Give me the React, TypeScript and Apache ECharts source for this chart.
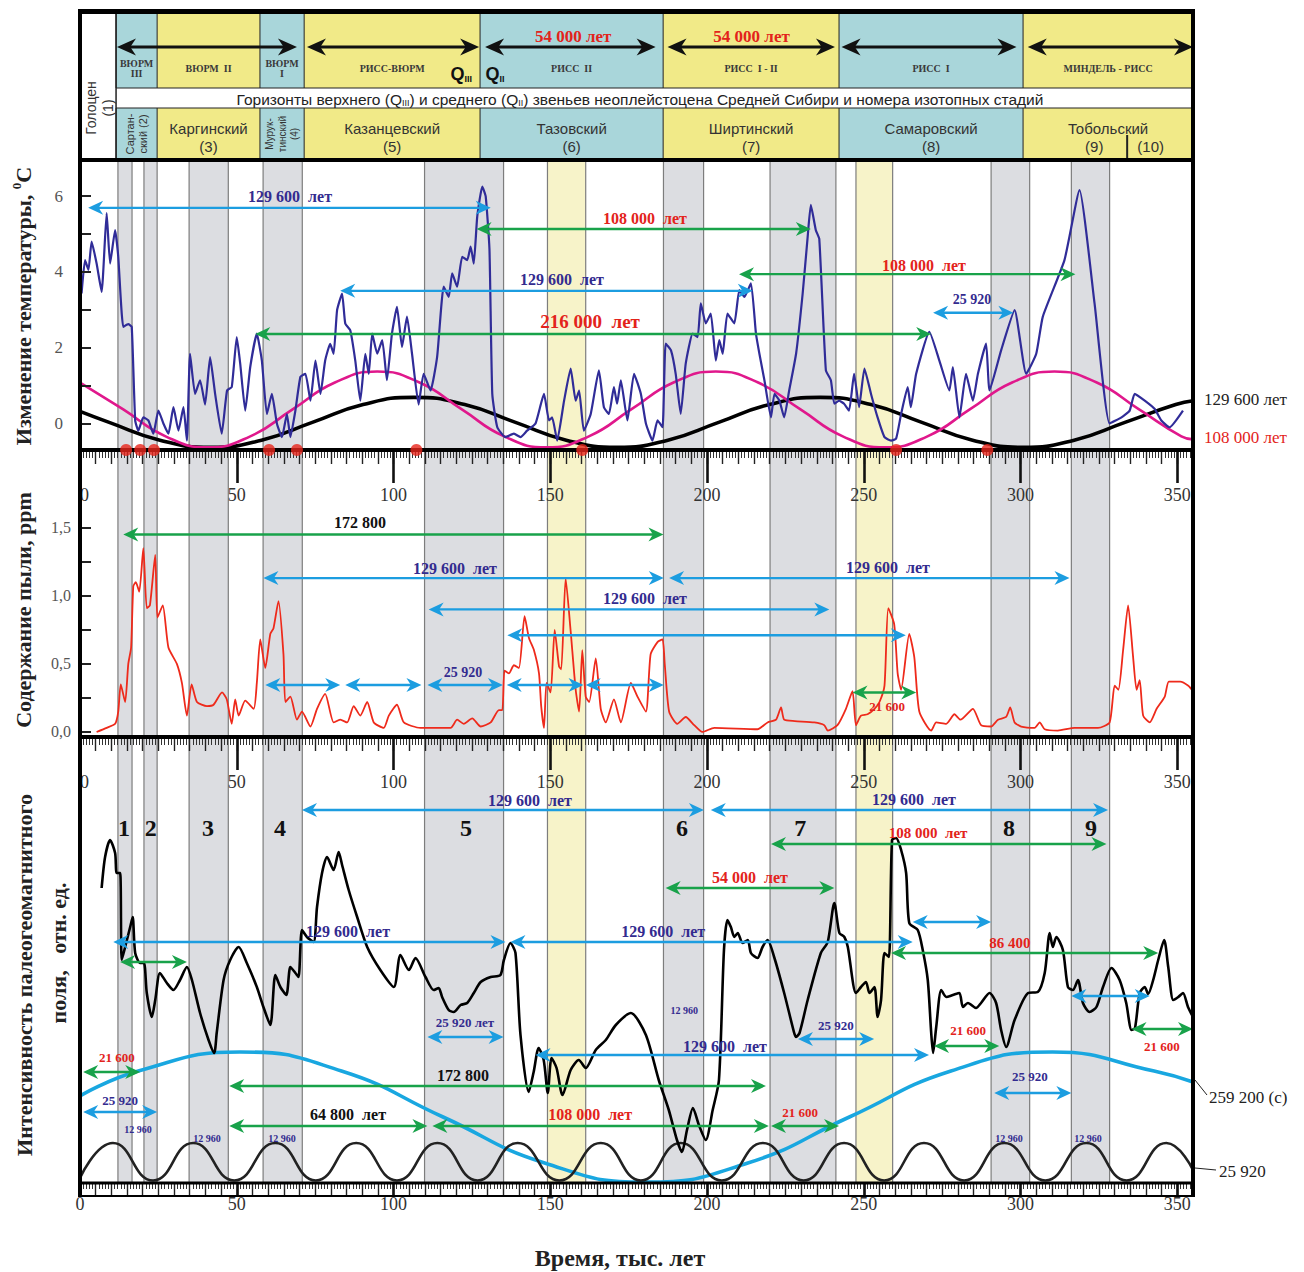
import React, { useEffect, useRef } from 'react';
import * as echarts from 'echarts';

const SERIF = '"Liberation Serif", "Times New Roman", serif';
const SANS = '"Liberation Sans", Arial, sans-serif';

const NAVY = '#332b8f';
const RED = '#e3231b';
const BLUE = '#1c9de0';
const GREEN = '#18a24a';
const CYAN_CELL = '#a9d6da';
const YELLOW_CELL = '#f1ea88';
const GRAY_BAND = '#dcdde1';
const YELLOW_BAND = '#f7f3c9';

const T_MAX = 355;

// ---------- stratigraphic table ----------
const stageBounds = [11.5, 24.6, 57.4, 71.5, 127.6, 186, 242.1, 300.8, 355];
const stageIsGlacial = [true, false, true, false, true, false, true, false];
const stageNames = ['ВЮРМ\nIII', 'ВЮРМ  II', 'ВЮРМ\nI', 'РИСС-ВЮРМ', 'РИСС  II', 'РИСС  I - II', 'РИСС  I', 'МИНДЕЛЬ - РИСС'];
const horizonNames = ['Сартан-\nский (2)', 'Каргинский\n(3)', 'Мурук-\nтинский\n(4)', 'Казанцевский\n(5)', 'Тазовский\n(6)', 'Ширтинский\n(7)', 'Самаровский\n(8)', 'Тобольский'];
const tobolskStages = [{ t: 323.5, label: '(9)' }, { t: 341.5, label: '(10)' }];
const tobolskDivider = 334;
const stageArrows: [number, number][] = [[11.8, 69.2], [72.4, 127.3], [129.2, 183.6], [187.4, 240.8], [242.9, 298.7], [302.3, 355]];
const stageDurations = [{ t: 157.3, label: '54 000 лет' }, { t: 214.2, label: '54 000 лет' }];

// ---------- shaded intervals (isotope stages) ----------
const grayBands: [number, number][] = [[12.1, 16.6], [20.4, 24.6], [34.8, 47.3], [58.4, 70.9], [109.9, 135.1], [186.1, 198.9], [220.1, 241.1], [290.6, 302.9], [316.2, 328.4]];
const yellowBands: [number, number][] = [[149.1, 161.3], [247.5, 259.2]];

// ---------- temperature, °C ----------
const temperatureAnomaly: [number, number][] = [
  [0.5, 3.43], [1.6, 4.31], [2.7, 4.05], [3.7, 4.8], [5.3, 4.22], [6.9, 3.47], [8.5, 5.55], [9.6, 4.22], [11.2, 5.1], [12.2, 4.4],
  [13.8, 2.55], [15.4, 2.62], [16.5, 2.55], [17.6, 0.08], [18.6, -0.19], [20.2, 0.16], [21.8, 0.08], [23.4, -0.27], [25.0, 0.34], [26.6, 0.0],
  [28.2, -0.27], [29.8, 0.43], [31.4, -0.19], [33.0, 0.43], [34.1, -0.45], [35.1, 1.84], [36.7, 0.78], [38.3, 1.14], [39.9, 0.5], [41.5, 1.75],
  [43.1, 0.78], [45.2, -0.27], [46.9, 0.87], [48.4, 0.96], [50.0, 2.28], [51.1, 1.58], [52.7, 0.34], [54.3, 1.49], [56.4, 2.37], [58.0, 1.66],
  [59.6, 0.25], [61.2, 0.78], [62.8, 0.0], [64.4, -0.36], [66.0, 0.25], [67.1, -0.36], [68.7, 0.34], [70.3, 1.23], [71.9, 1.31], [73.5, 0.6],
  [75.1, 1.66], [76.7, 0.78], [78.2, 1.66], [79.8, 2.1], [80.9, 1.84], [82.0, 2.99], [83.6, 3.43], [84.6, 2.64], [86.2, 2.46], [87.8, 1.66],
  [89.4, 0.6], [91.0, 1.84], [92.1, 1.31], [93.2, 2.37], [94.8, 1.84], [96.4, 2.2], [97.9, 1.14], [99.5, 2.37], [101.1, 3.08], [102.7, 2.02],
  [104.3, 2.82], [105.9, 1.84], [108.0, 0.5], [109.6, 1.31], [111.8, 0.87], [113.9, 1.75], [116.0, 3.61], [117.6, 3.34], [118.7, 3.96], [120.3, 3.61],
  [121.9, 4.4], [123.5, 4.31], [124.6, 4.67], [125.6, 4.22], [126.7, 5.46], [128.3, 6.25], [129.4, 5.99], [130.6, 4.6], [131.5, 0.78], [133.1, -0.1],
  [135.7, -0.36], [138.4, -0.27], [140.5, -0.36], [142.6, -0.19], [145.3, 0.0], [148.0, 0.78], [149.6, 0.08], [150.6, 0.16], [152.2, -0.45], [154.4, 0.6],
  [156.5, 1.45], [158.1, 0.6], [159.2, 0.87], [160.7, -0.19], [162.9, 0.25], [165.5, 1.4], [167.1, 0.43], [168.7, 0.25], [170.3, 0.96], [171.3, 0.52],
  [172.5, 1.14], [174.6, 0.08], [176.7, 1.31], [178.9, 0.78], [180.5, 0.0], [182.6, -0.45], [184.2, 0.08], [185.8, -0.1], [186.8, 2.11], [188.5, 1.93],
  [190.0, 1.31], [191.6, 0.25], [193.2, 1.58], [195.4, 2.37], [197.0, 2.28], [198.0, 3.17], [199.6, 2.64], [201.2, 2.9], [202.8, 1.66], [203.9, 2.2],
  [205.0, 1.84], [206.5, 2.9], [208.7, 2.64], [210.3, 3.52], [211.9, 3.34], [214.0, 3.7], [215.6, 2.37], [216.7, 1.84], [218.3, 1.14], [220.4, 0.16],
  [221.5, 0.78], [223.1, 0.6], [224.6, 0.16], [226.2, 0.87], [228.4, 1.84], [230.5, 3.43], [232.1, 4.93], [233.1, 5.77], [234.7, 5.1], [235.8, 4.87],
  [237.9, 1.4], [239.5, 1.14], [240.6, 0.52], [242.1, 0.6], [243.7, 0.52], [245.3, 0.34], [246.9, 1.31], [248.5, 0.43], [250.2, 1.45], [252.3, 0.78],
  [254.4, 0.16], [256.6, -0.36], [258.7, -0.45], [260.3, -0.4], [261.9, 0.25], [264.0, 0.96], [265.0, 0.43], [266.7, 1.31], [270.9, 2.42], [274.1, 1.66],
  [277.3, 0.87], [278.4, 1.49], [280.5, 0.16], [282.6, 1.31], [284.8, 0.6], [286.4, 1.31], [289.0, 2.11], [290.1, 0.87], [293.8, 1.93], [298.1, 2.99],
  [301.8, 1.31], [305.0, 1.84], [307.1, 2.82], [314.0, 4.31], [318.8, 6.16], [323.6, 3.17], [328.4, 0.0], [332.2, 0.16], [334.8, 0.34], [336.4, 0.78],
  [339.6, 0.6], [342.8, 0.38], [344.9, 0.08], [347.5, -0.1], [351.8, 0.34],
];
const period129600: [number, number][] = [
  [0, 0.32], [9.3, 0.03], [25.5, -0.44], [41.7, -0.63], [57.9, -0.44], [74.1, 0.03], [90.3, 0.5], [106.5, 0.69], [122.7, 0.5], [138.9, 0.03],
  [155.1, -0.44], [171.3, -0.63], [187.5, -0.44], [203.7, 0.03], [219.9, 0.5], [236.1, 0.69], [252.3, 0.5], [268.5, 0.03], [284.7, -0.44],
  [300.9, -0.63], [317.1, -0.44], [333.3, 0.03], [349.5, 0.5], [355, 0.6],
];
const period108000: [number, number][] = [
  [0, 1.08], [13.8, 0.37], [27.3, -0.34], [40.8, -0.63], [54.3, -0.34], [67.8, 0.37], [81.3, 1.08], [94.8, 1.37], [108.3, 1.08], [121.8, 0.37],
  [135.3, -0.34], [148.8, -0.63], [162.3, -0.34], [175.8, 0.37], [189.3, 1.08], [202.8, 1.37], [216.3, 1.08], [229.8, 0.37], [243.3, -0.34],
  [256.8, -0.63], [270.3, -0.34], [283.8, 0.37], [297.3, 1.08], [310.8, 1.37], [324.3, 1.08], [337.8, 0.37], [351.3, -0.34], [355, -0.42],
];
const markedAges = [14.7, 19.2, 23.6, 60.3, 69.2, 107.3, 160.2, 260.3, 289.4];

// ---------- dust, ppm ----------
const dustContent: [number, number][] = [
  [5.3, 0.0], [8.5, 0.03], [11.2, 0.06], [12.2, 0.15], [13.0, 0.35], [14.4, 0.22], [15.4, 0.5], [16.3, 0.62], [17.0, 1.07], [17.8, 1.1],
  [18.9, 1.03], [20.2, 1.35], [21.3, 0.91], [22.3, 0.93], [24.0, 1.3], [24.7, 0.84], [26.4, 0.93], [28.2, 0.62], [30.9, 0.5], [32.5, 0.36],
  [34.1, 0.12], [35.6, 0.35], [37.3, 0.22], [40.5, 0.19], [42.6, 0.2], [45.3, 0.29], [46.8, 0.24], [48.4, 0.06], [49.5, 0.24], [50.6, 0.12],
  [52.7, 0.23], [55.4, 0.17], [56.4, 0.36], [57.5, 0.68], [59.1, 0.47], [60.7, 0.72], [61.7, 0.76], [63.3, 0.96], [64.9, 0.57], [65.5, 0.22],
  [67.1, 0.26], [69.2, 0.09], [70.8, 0.15], [73.5, 0.04], [75.6, 0.17], [78.2, 0.28], [80.9, 0.07], [83.0, 0.09], [85.2, 0.07], [87.3, 0.19],
  [89.4, 0.12], [91.6, 0.22], [93.7, 0.07], [96.9, 0.03], [98.5, 0.12], [101.1, 0.2], [103.3, 0.07], [108.6, 0.03], [118.2, 0.03], [120.3, 0.09],
  [122.4, 0.06], [125.1, 0.1], [127.8, 0.04], [131.0, 0.07], [133.6, 0.16], [134.7, 0.16], [135.4, 0.45], [136.8, 0.43], [138.4, 0.49], [140.0, 0.47],
  [141.8, 0.85], [143.2, 0.69], [144.8, 0.6], [146.4, 0.43], [147.1, 0.19], [148.0, 0.03], [148.8, 0.36], [150.1, 0.29], [151.4, 0.75], [152.8, 0.48],
  [153.5, 0.46], [154.9, 1.13], [156.5, 0.74], [158.1, 0.31], [159.2, 0.15], [160.2, 0.6], [161.3, 0.26], [162.4, 0.22], [164.5, 0.54], [166.1, 0.17],
  [167.7, 0.07], [170.3, 0.24], [172.5, 0.07], [175.7, 0.36], [177.8, 0.26], [180.5, 0.15], [182.0, 0.57], [184.2, 0.66], [185.8, 0.68], [186.5, 0.5],
  [187.9, 0.15], [190.5, 0.06], [193.2, 0.11], [195.9, 0.05], [198.5, 0.0], [202.3, 0.03], [216.1, 0.02], [219.3, 0.07], [222.0, 0.09], [223.6, 0.18],
  [224.6, 0.09], [228.0, 0.08], [234.2, 0.07], [237.4, 0.05], [238.5, 0.01], [241.6, 0.05], [244.3, 0.17], [246.4, 0.3], [247.5, 0.05], [249.1, 0.12],
  [251.2, 0.13], [253.4, 0.17], [255.0, 0.22], [256.6, 0.34], [257.8, 0.91], [259.7, 0.79], [260.8, 0.43], [261.9, 0.31], [264.5, 0.72], [266.1, 0.55],
  [267.7, 0.15], [271.5, 0.01], [273.1, 0.07], [276.3, 0.06], [278.9, 0.13], [280.8, 0.09], [284.8, 0.17], [287.4, 0.05], [290.6, 0.04], [292.8, 0.09],
  [295.4, 0.11], [296.7, 0.18], [298.1, 0.07], [300.2, 0.04], [304.5, 0.03], [306.1, 0.07], [307.7, 0.02], [311.9, 0.01], [317.2, 0.03], [324.7, 0.03],
  [328.4, 0.07], [330.0, 0.34], [331.2, 0.31], [332.7, 0.6], [334.3, 0.93], [335.9, 0.55], [337.0, 0.31], [338.0, 0.38], [339.1, 0.12], [341.2, 0.07],
  [343.4, 0.17], [346.0, 0.26], [347.3, 0.37], [350.9, 0.37], [353.5, 0.34], [355, 0.3],
];

// ---------- palaeomagnetic field intensity, relative units ----------
const fieldIntensity: [number, number][] = [
  [6.9, 29.5], [8.0, 32.6], [9.6, 34.3], [11.2, 33.0], [11.7, 31.0], [12.8, 31.0], [13.3, 22.3], [14.4, 23.6], [16.0, 25.6], [16.8, 26.6],
  [17.6, 23.0], [19.2, 22.0], [20.4, 22.0], [21.3, 19.0], [22.9, 16.6], [24.0, 18.3], [25.5, 21.0], [27.7, 20.0], [29.8, 19.3], [31.9, 20.3],
  [34.1, 21.6], [35.7, 20.3], [38.3, 17.0], [41.0, 14.3], [42.8, 13.0], [43.6, 15.0], [45.8, 20.3], [47.9, 22.3], [50.6, 23.6], [53.2, 22.0],
  [56.4, 19.6], [58.5, 17.6], [60.7, 15.8], [62.3, 20.8], [63.9, 19.6], [65.8, 18.8], [67.1, 21.6], [68.7, 21.0], [69.7, 20.6], [70.8, 25.3],
  [72.4, 24.6], [74.5, 24.1], [75.6, 27.6], [77.2, 31.0], [78.8, 32.6], [80.9, 31.3], [82.5, 33.1], [83.6, 31.8], [85.7, 29.3], [88.4, 26.6],
  [91.6, 23.6], [95.8, 21.3], [100.1, 19.6], [102.2, 22.8], [104.9, 21.3], [107.0, 22.5], [110.2, 20.6], [112.8, 19.3], [114.4, 19.5], [115.5, 18.6],
  [117.6, 17.3], [119.2, 17.1], [121.4, 17.8], [123.5, 18.0], [125.6, 19.0], [127.8, 20.1], [131.0, 20.6], [134.1, 20.8], [135.2, 22.3], [137.3, 24.0],
  [138.9, 23.0], [140.5, 14.8], [143.1, 9.1], [144.7, 11.1], [146.3, 13.5], [147.9, 12.3], [149.2, 9.0], [150.4, 12.5], [152.0, 11.5], [153.9, 8.8],
  [156.5, 11.3], [159.1, 12.3], [161.3, 11.5], [164.5, 13.3], [167.7, 14.3], [170.9, 15.8], [175.7, 17.0], [180.5, 14.8], [184.6, 10.3], [187.8, 7.3],
  [190.4, 4.3], [192.0, 3.1], [193.6, 5.3], [195.5, 7.5], [197.4, 5.8], [199.6, 4.3], [201.8, 7.3], [203.8, 10.3], [205.4, 23.3], [206.5, 26.3],
  [207.6, 25.6], [208.7, 24.6], [209.8, 25.0], [211.3, 24.0], [213.0, 24.3], [214.0, 23.0], [216.1, 22.5], [217.7, 23.6], [219.3, 24.3], [221.4, 22.6],
  [224.6, 19.0], [227.8, 15.0], [228.4, 14.6], [229.5, 15.0], [232.1, 18.3], [236.3, 23.0], [238.5, 24.1], [240.6, 28.0], [242.2, 25.0], [243.8, 24.6],
  [244.9, 23.6], [247.5, 19.0], [249.1, 19.6], [250.7, 20.1], [251.8, 19.0], [253.4, 19.6], [254.4, 16.6], [255.5, 18.3], [256.6, 23.0], [258.0, 22.6],
  [259.0, 34.3], [260.3, 34.5], [261.9, 33.3], [263.5, 31.0], [264.5, 26.0], [267.2, 25.3], [268.8, 23.3], [270.4, 20.3], [271.5, 15.0], [272.1, 13.0],
  [273.1, 15.6], [274.7, 19.3], [276.3, 18.6], [278.4, 18.8], [280.5, 19.0], [281.6, 17.6], [283.2, 18.0], [285.8, 17.5], [287.4, 18.0], [290.1, 19.0],
  [292.2, 18.0], [293.8, 15.3], [295.4, 13.6], [298.1, 16.3], [302.4, 19.0], [305.5, 19.1], [307.7, 21.0], [309.3, 25.0], [310.3, 23.6], [311.4, 24.6],
  [313.5, 23.3], [315.1, 19.6], [316.7, 19.3], [318.3, 20.3], [319.9, 18.0], [322.0, 17.1], [324.2, 17.6], [326.3, 19.6], [329.0, 21.5], [331.6, 20.3],
  [333.7, 18.0], [335.4, 15.3], [336.5, 15.5], [338.0, 19.0], [339.6, 19.6], [340.7, 18.9], [342.3, 20.3], [343.9, 22.3], [345.8, 24.3], [347.1, 21.6],
  [348.7, 18.3], [350.3, 18.6], [351.8, 19.0], [353.4, 17.6], [355, 16.6],
];
const period259200: [number, number][] = [
  [0, 8.7], [18.6, 11.2], [51, 13.1], [83.4, 11.2], [115.8, 6.6], [148.2, 2.0], [180.6, 0.1], [213, 2.0], [245.4, 6.6], [277.8, 11.2], [310.2, 13.1], [342.6, 11.2], [355, 10.1],
];
const period25920: [number, number][] = [
  [0, 0.5], [10.5, 4.0], [23.3, 0.25], [36.1, 4.0], [49.2, 0.25], [62.3, 4.0], [75.2, 0.25], [88.1, 4.0], [101.1, 0.25], [114.0, 4.0],
  [126.8, 0.25], [139.6, 4.0], [152.9, 0.25], [166.1, 4.0], [178.9, 0.25], [191.6, 4.0], [204.7, 0.25], [217.8, 4.0], [230.8, 0.25], [243.7, 4.0],
  [256.5, 0.25], [269.2, 4.0], [282.0, 0.25], [294.8, 4.0], [307.9, 0.25], [321.0, 4.0], [333.8, 0.25], [346.5, 4.0], [355, 1.3],
];

// ---------- period annotations ----------
type Arrow = { t1: number; t2: number; y: number; kind: 'blue' | 'green'; label?: string; color?: string; lt?: number; ly?: number; size?: number };
type Note = { t: number; y: number; text: string; color: string; size: number };

const temperatureArrows: Arrow[] = [
  { t1: 2.6, t2: 131, y: 5.69, kind: 'blue', label: '129 600  лет', color: NAVY, lt: 67, ly: 5.98, size: 16 },
  { t1: 126.5, t2: 233.1, y: 5.13, kind: 'green', label: '108 000  лет', color: RED, lt: 180.2, ly: 5.42, size: 16 },
  { t1: 83, t2: 214.6, y: 3.5, kind: 'blue', label: '129 600  лет', color: NAVY, lt: 153.7, ly: 3.79, size: 16 },
  { t1: 210.2, t2: 317.5, y: 3.94, kind: 'green', label: '108 000  лет', color: RED, lt: 269.2, ly: 4.18, size: 16 },
  { t1: 272.1, t2: 297.7, y: 2.92, kind: 'blue', label: '25 920', color: NAVY, lt: 284.5, ly: 3.26, size: 14 },
  { t1: 55.9, t2: 271.5, y: 2.36, kind: 'green', label: '216 000  лет', color: RED, lt: 162.7, ly: 2.7, size: 19 },
];
const dustArrows: Arrow[] = [
  { t1: 13.8, t2: 186.1, y: 1.45, kind: 'green', label: '172 800', color: '#111', lt: 89.3, ly: 1.54, size: 16 },
  { t1: 58.5, t2: 186.2, y: 1.13, kind: 'blue', label: '129 600  лет', color: NAVY, lt: 119.6, ly: 1.2, size: 16 },
  { t1: 187.9, t2: 315.6, y: 1.13, kind: 'blue', label: '129 600  лет', color: NAVY, lt: 257.7, ly: 1.21, size: 16 },
  { t1: 111.2, t2: 239.0, y: 0.9, kind: 'blue', label: '129 600  лет', color: NAVY, lt: 180.2, ly: 0.98, size: 16 },
  { t1: 136.3, t2: 263.4, y: 0.71, kind: 'blue' },
  { t1: 59.1, t2: 83.0, y: 0.345, kind: 'blue' },
  { t1: 84.6, t2: 108.9, y: 0.345, kind: 'blue' },
  { t1: 110.8, t2: 134.9, y: 0.345, kind: 'blue', label: '25 920', color: NAVY, lt: 122.2, ly: 0.44, size: 14 },
  { t1: 136.1, t2: 160.6, y: 0.345, kind: 'blue' },
  { t1: 161.3, t2: 186.2, y: 0.345, kind: 'blue' },
  { t1: 246.4, t2: 266.7, y: 0.29, kind: 'green', label: '21 600', color: RED, lt: 257.4, ly: 0.19, size: 13 },
];
const fieldArrows: Arrow[] = [
  { t1: 70.8, t2: 199, y: 37.3, kind: 'blue', label: '129 600  лет', color: NAVY, lt: 143.5, ly: 38.3, size: 16 },
  { t1: 201.2, t2: 327.9, y: 37.3, kind: 'blue', label: '129 600  лет', color: NAVY, lt: 266, ly: 38.4, size: 16 },
  { t1: 220.4, t2: 327.4, y: 33.9, kind: 'green', label: '108 000  лет', color: RED, lt: 270.5, ly: 35.0, size: 15 },
  { t1: 186.8, t2: 240.6, y: 29.5, kind: 'green', label: '54 000  лет', color: RED, lt: 213.7, ly: 30.6, size: 16 },
  { t1: 10.6, t2: 135.7, y: 24.1, kind: 'blue', label: '129 600  лет', color: NAVY, lt: 85.5, ly: 25.2, size: 16 },
  { t1: 137.3, t2: 265.6, y: 24.1, kind: 'blue', label: '129 600  лет', color: NAVY, lt: 186, ly: 25.2, size: 16 },
  { t1: 12.8, t2: 34.1, y: 22.1, kind: 'green' },
  { t1: 265.6, t2: 290.6, y: 26.1, kind: 'blue' },
  { t1: 258.7, t2: 343.9, y: 23.0, kind: 'green', label: '86 400', color: RED, lt: 296.6, ly: 24.0, size: 15 },
  { t1: 316.2, t2: 341.2, y: 18.7, kind: 'blue' },
  { t1: 335.4, t2: 355, y: 15.4, kind: 'green', label: '21 600', color: RED, lt: 345.1, ly: 13.7, size: 13 },
  { t1: 272.4, t2: 293.2, y: 13.7, kind: 'green', label: '21 600', color: RED, lt: 283.3, ly: 15.3, size: 13 },
  { t1: 229, t2: 253.3, y: 14.4, kind: 'blue', label: '25 920', color: NAVY, lt: 241.1, ly: 15.8, size: 13 },
  { t1: 145.3, t2: 270.8, y: 12.8, kind: 'blue', label: '129 600  лет', color: NAVY, lt: 205.7, ly: 13.7, size: 16 },
  { t1: 110.8, t2: 135.1, y: 14.6, kind: 'blue', label: '25 920 лет', color: NAVY, lt: 122.8, ly: 16.1, size: 13 },
  { t1: 1, t2: 19.2, y: 11.1, kind: 'green', label: '21 600', color: RED, lt: 11.8, ly: 12.6, size: 13 },
  { t1: 1, t2: 24.6, y: 7.1, kind: 'blue', label: '25 920', color: NAVY, lt: 12.8, ly: 8.3, size: 13 },
  { t1: 47.6, t2: 218.8, y: 9.7, kind: 'green', label: '172 800', color: '#111', lt: 122.2, ly: 10.8, size: 16 },
  { t1: 47.6, t2: 110.8, y: 5.7, kind: 'green', label: '64 800  лет', color: '#111', lt: 85.5, ly: 6.9, size: 16 },
  { t1: 112.4, t2: 219.7, y: 5.7, kind: 'green', label: '108 000  лет', color: RED, lt: 162.7, ly: 6.9, size: 16 },
  { t1: 220.4, t2: 242.1, y: 5.7, kind: 'green', label: '21 600', color: RED, lt: 229.7, ly: 7.1, size: 13 },
  { t1: 291.6, t2: 316.2, y: 9.0, kind: 'blue', label: '25 920', color: NAVY, lt: 303, ly: 10.7, size: 13 },
];
const stageNumbers = [
  { t: 14, label: '1' }, { t: 22.6, label: '2' }, { t: 40.8, label: '3' }, { t: 63.8, label: '4' }, { t: 123.1, label: '5' },
  { t: 192.0, label: '6' }, { t: 229.7, label: '7' }, { t: 296.3, label: '8' }, { t: 322.5, label: '9' },
];
const halfPrecessionMarks: [number, number][] = [[18.5, 5.4], [40.5, 4.5], [64.4, 4.5], [192.7, 17.3], [296.3, 4.5], [321.5, 4.5]];

const fieldNotes: Note[] = [
  ...stageNumbers.map((s) => ({ t: s.t, y: 35.5, text: s.label, color: '#111', size: 24 })),
  ...halfPrecessionMarks.map(([t, y]) => ({ t, y, text: '12 960', color: NAVY, size: 10 })),
];

// ---------- drawing helpers ----------
function textEl(x: number, y: number, text: string, o: any) {
  return {
    type: 'text',
    x,
    y,
    rotation: o.rotate ? Math.PI / 2 : 0,
    style: {
      text,
      x: 0,
      y: 0,
      fill: o.color || '#111',
      fontSize: o.size,
      fontFamily: o.family || SERIF,
      fontWeight: o.weight || 'bold',
      align: o.align || 'center',
      verticalAlign: 'middle',
      lineHeight: o.lineHeight,
      rich: o.rich,
    },
  };
}

function arrowGroup(api: any, a: { t1: number; t2: number; y: number }, color: string, len: number, half: number, lw: number) {
  const p1 = api.coord([a.t1, a.y]);
  const p2 = api.coord([a.t2, a.y]);
  const y = p1[1];
  const head = (tx: number, dir: number) => ({
    type: 'polygon',
    shape: { points: [[tx, y], [tx + dir * len, y - half], [tx + dir * len * 0.7, y], [tx + dir * len, y + half]] },
    style: { fill: color },
  });
  return [
    { type: 'line', shape: { x1: p1[0] + len * 0.6, y1: y, x2: p2[0] - len * 0.6, y2: y }, style: { stroke: color, lineWidth: lw } },
    head(p1[0], 1),
    head(p2[0], -1),
  ];
}

function annotationSeries(xIdx: number, yIdx: number, arrows: Arrow[], notes: Note[]) {
  const items: any[] = [...arrows.map((a) => ({ a })), ...notes.map((n) => ({ n }))];
  return {
    type: 'custom',
    xAxisIndex: xIdx,
    yAxisIndex: yIdx,
    z: 8,
    silent: true,
    clip: false,
    data: items.map((it) => (it.a ? [it.a.t1, it.a.y] : [it.n.t, it.n.y])),
    renderItem: (params: any, api: any) => {
      const it = items[params.dataIndex];
      if (it.a) {
        const a: Arrow = it.a;
        const children: any[] = arrowGroup(api, a, a.kind === 'blue' ? BLUE : GREEN, 15, 7, 2.4);
        if (a.label) {
          const p = api.coord([a.lt, a.ly]);
          children.push(textEl(p[0], p[1], a.label, { color: a.color, size: a.size }));
        }
        return { type: 'group', children };
      }
      const n: Note = it.n;
      const p = api.coord([n.t, n.y]);
      return textEl(p[0], p[1], n.text, { color: n.color, size: n.size });
    },
  };
}

const bandList = [
  ...grayBands.map((b) => ({ from: b[0], to: b[1], fill: GRAY_BAND })),
  ...yellowBands.map((b) => ({ from: b[0], to: b[1], fill: YELLOW_BAND })),
];

function bandSeries(xIdx: number, yIdx: number, yRef: number) {
  return {
    type: 'custom',
    xAxisIndex: xIdx,
    yAxisIndex: yIdx,
    z: 1,
    silent: true,
    clip: false,
    data: bandList.map((b) => [b.from, yRef]),
    renderItem: (params: any, api: any) => {
      const b = bandList[params.dataIndex];
      const cs = params.coordSys;
      const x0 = api.coord([b.from, yRef])[0];
      const x1 = api.coord([b.to, yRef])[0];
      const edge = (x: number) => ({ type: 'line', shape: { x1: x, y1: cs.y, x2: x, y2: cs.y + cs.height }, style: { stroke: '#7d7d7d', lineWidth: 1.2 } });
      return {
        type: 'group',
        children: [{ type: 'rect', shape: { x: x0, y: cs.y, width: x1 - x0, height: cs.height }, style: { fill: b.fill } }, edge(x0), edge(x1)],
      };
    },
  };
}

// header rows in header-axis units (0 at the top)
const ROW_STAGE_TOP = 3;
const ROW_STAGE_BOTTOM = 78;
const ROW_STRIP_BOTTOM = 98;
const ROW_HORIZON_BOTTOM = 150;

function headerSeries() {
  return {
    type: 'custom',
    xAxisIndex: 0,
    yAxisIndex: 0,
    z: 3,
    silent: true,
    clip: false,
    data: [[0, 0]],
    renderItem: (_params: any, api: any) => {
      const X = (t: number) => api.coord([t, 0])[0];
      const Y = (h: number) => api.coord([0, h])[1];
      const kids: any[] = [];
      const vline = (x: number, y0: number, y1: number, w = 1) => ({ type: 'line', shape: { x1: x, y1: y0, x2: x, y2: y1 }, style: { stroke: '#222', lineWidth: w } });
      const hline = (y: number, x0: number, x1: number) => ({ type: 'line', shape: { x1: x0, y1: y, x2: x1, y2: y }, style: { stroke: '#222', lineWidth: 1 } });
      for (let i = 0; i < stageNames.length; i++) {
        const x0 = X(stageBounds[i]);
        const x1 = X(stageBounds[i + 1]);
        const fill = stageIsGlacial[i] ? CYAN_CELL : YELLOW_CELL;
        kids.push({ type: 'rect', shape: { x: x0, y: Y(ROW_STAGE_TOP), width: x1 - x0, height: Y(ROW_STAGE_BOTTOM) - Y(ROW_STAGE_TOP) }, style: { fill } });
        kids.push({ type: 'rect', shape: { x: x0, y: Y(ROW_STRIP_BOTTOM), width: x1 - x0, height: Y(ROW_HORIZON_BOTTOM) - Y(ROW_STRIP_BOTTOM) }, style: { fill } });
        kids.push(vline(x0, Y(ROW_STAGE_TOP), Y(ROW_STAGE_BOTTOM)));
        kids.push(vline(x0, Y(ROW_STRIP_BOTTOM), Y(ROW_HORIZON_BOTTOM)));
        const xc = (x0 + x1) / 2;
        const narrow = x1 - x0 < 60;
        kids.push(textEl(xc, Y(58), stageNames[i], { color: '#3a3a3a', size: 10, lineHeight: 10 }));
        if (narrow) {
          kids.push(textEl(xc, Y(124), horizonNames[i], { color: '#333', size: horizonNames[i].split('\n').length > 2 ? 10 : 11, family: SANS, weight: 'normal', rotate: true, lineHeight: 12.5 }));
        } else if (i === stageNames.length - 1) {
          kids.push(textEl(xc, Y(118), horizonNames[i], { color: '#333', size: 15, family: SANS, weight: 'normal' }));
        } else {
          kids.push(textEl(xc, Y(127), horizonNames[i], { color: '#333', size: 15, family: SANS, weight: 'normal', lineHeight: 18 }));
        }
      }
      tobolskStages.forEach((s) => kids.push(textEl(X(s.t), Y(136), s.label, { color: '#333', size: 15, family: SANS, weight: 'normal' })));
      kids.push(vline(X(tobolskDivider), Y(125), Y(ROW_HORIZON_BOTTOM), 2));
      // holocene column
      kids.push(vline(X(stageBounds[0]), Y(0), Y(ROW_HORIZON_BOTTOM), 1.5));
      kids.push(textEl(X(6.2), Y(98), 'Голоцен\n(1)', { color: '#333', size: 14, family: SANS, weight: 'normal', rotate: true, lineHeight: 17 }));
      // strip
      kids.push(hline(Y(ROW_STAGE_BOTTOM), X(stageBounds[0]), X(T_MAX)));
      kids.push(hline(Y(ROW_STRIP_BOTTOM), X(stageBounds[0]), X(T_MAX)));
      kids.push(
        textEl(X(178.6), Y(88), '{a|Горизонты верхнего (Q}{b|III}{a|) и среднего (Q}{b|II}{a|) звеньев неоплейстоцена Средней Сибири и номера изотопных стадий}', {
          size: 15,
          rich: {
            a: { fontSize: 15.5, fontFamily: SANS, fill: '#222', lineHeight: 18, verticalAlign: 'bottom' },
            b: { fontSize: 9, fontFamily: SANS, fill: '#222', lineHeight: 14, verticalAlign: 'bottom' },
          },
        })
      );
      // stage arrows and durations
      stageArrows.forEach(([t1, t2]) => kids.push(...arrowGroup(api, { t1, t2, y: 37 }, '#111', 19, 8.5, 3.2)));
      stageDurations.forEach((d) => kids.push(textEl(X(d.t), Y(26), d.label, { color: RED, size: 17 })));
      const qRich = {
        q: { fontSize: 18, fontWeight: 'bold', fontFamily: SANS, fill: '#111', lineHeight: 20, verticalAlign: 'bottom' },
        s: { fontSize: 9, fontWeight: 'bold', fontFamily: SANS, fill: '#111', lineHeight: 14, verticalAlign: 'bottom' },
      };
      kids.push(textEl(X(121.6), Y(63), '{q|Q}{s|III}', { size: 18, rich: qRich }));
      kids.push(textEl(X(132.4), Y(63), '{q|Q}{s|II}', { size: 18, rich: qRich }));
      return { type: 'group', children: kids };
    },
  };
}

// ---------- axes ----------
const GRID_LEFT = 80;
const GRID_WIDTH = 1113;
const rulerTicks = [0, 50, 100, 150, 200, 250, 300, 350];

function rulerAxes(gridIndex: number, position: 'top' | 'bottom') {
  const inside = position === 'top';
  return [
    {
      gridIndex, type: 'value', position, min: 0, max: T_MAX, interval: 5, z: 6,
      axisLine: { show: false, onZero: false },
      axisTick: { show: true, inside, length: 12, lineStyle: { color: '#222', width: 1.4 } },
      minorTick: { show: true, splitNumber: 5, length: 6, lineStyle: { color: '#333', width: 1 } },
      axisLabel: { show: false },
      splitLine: { show: false },
      minorSplitLine: { show: false },
    },
    {
      gridIndex, type: 'value', position, min: 0, max: T_MAX, z: 6,
      axisLine: { show: false, onZero: false },
      axisTick: { show: true, inside, length: inside ? 31 : 14, customValues: rulerTicks, lineStyle: { color: '#111', width: 2.6 } },
      axisLabel: {
        show: true, inside, customValues: rulerTicks, margin: inside ? 34 : 12, fontSize: 18, fontFamily: SERIF, color: '#333',
        alignMinLabel: inside ? 'left' : 'center',
      },
      splitLine: { show: false },
    },
  ];
}

// xAxis indices: 0 header, 1 temperature, 2-3 dust ruler, 4-5 field top ruler, 6-7 field bottom ruler
const X_TEMP = 1;
const X_DUST = 2;
const X_FIELD = 4;

function buildOption() {
  const frameLines: number[][] = [
    [78, 11.5, 1195, 11.5, 5],
    [80, 9, 80, 1197, 4],
    [1193, 9, 1193, 1197, 4],
    [78, 160, 1195, 160, 4],
    [78, 450, 1195, 450, 4],
    [78, 737, 1195, 737, 4],
    [78, 1183, 1195, 1183, 3],
    [78, 1196, 1195, 1196, 2],
  ];
  const graphic: any[] = frameLines.map(([x1, y1, x2, y2, w]) => ({
    type: 'line', z: 50, silent: true, shape: { x1, y1, x2, y2 }, style: { stroke: '#000', lineWidth: w },
  }));
  const title = (x: number, y: number, text: string, size: number, rich?: any) => ({
    type: 'text', x, y, rotation: Math.PI / 2, z: 50,
    style: { text, x: 0, y: 0, fill: '#222', fontSize: size, fontWeight: 'bold', fontFamily: SERIF, align: 'center', verticalAlign: 'middle', rich },
  });
  graphic.push(
    title(23, 306, '{a|Изменение температуры, }{s|0}{a|С}', 22, {
      a: { fontSize: 22, fontWeight: 'bold', fontFamily: SERIF, fill: '#222', lineHeight: 26 },
      s: { fontSize: 13, fontWeight: 'bold', fontFamily: SERIF, fill: '#222', lineHeight: 26, verticalAlign: 'top' },
    }),
    title(23, 610, 'Содержание пыли, ppm', 22),
    title(24, 975, 'Интенсивность палеогеомагнитного', 22),
    title(58, 953, 'поля,   отн. ед.', 22),
    {
      type: 'text', x: 620, y: 1258, z: 50,
      style: { text: 'Время, тыс. лет', x: 0, y: 0, fill: '#222', fontSize: 24, fontWeight: 'bold', fontFamily: SERIF, align: 'center', verticalAlign: 'middle' },
    },
    { type: 'text', x: 1204, y: 399, z: 50, style: { text: '129 600 лет', x: 0, y: 0, fill: '#222', fontSize: 17, fontFamily: SERIF, align: 'left', verticalAlign: 'middle' } },
    { type: 'text', x: 1204, y: 437, z: 50, style: { text: '108 000 лет', x: 0, y: 0, fill: RED, fontSize: 17, fontFamily: SERIF, align: 'left', verticalAlign: 'middle' } },
    { type: 'text', x: 1209, y: 1097, z: 50, style: { text: '259 200 (c)', x: 0, y: 0, fill: '#222', fontSize: 17, fontFamily: SERIF, align: 'left', verticalAlign: 'middle' } },
    { type: 'text', x: 1219, y: 1171, z: 50, style: { text: '25 920', x: 0, y: 0, fill: '#222', fontSize: 17, fontFamily: SERIF, align: 'left', verticalAlign: 'middle' } },
    { type: 'line', z: 50, shape: { x1: 1195, y1: 1080, x2: 1207, y2: 1095 }, style: { stroke: '#222', lineWidth: 1 } },
    { type: 'line', z: 50, shape: { x1: 1195, y1: 1168, x2: 1216, y2: 1170 }, style: { stroke: '#222', lineWidth: 1 } },
  );

  return {
    animation: false,
    backgroundColor: '#ffffff',
    textStyle: { fontFamily: SERIF },
    grid: [
      { left: GRID_LEFT, top: 10, width: GRID_WIDTH, height: 150 },
      { left: GRID_LEFT, top: 162, width: GRID_WIDTH, height: 288 },
      { left: GRID_LEFT, top: 452, width: GRID_WIDTH, height: 285 },
      { left: GRID_LEFT, top: 739, width: GRID_WIDTH, height: 444 },
    ],
    xAxis: [
      { gridIndex: 0, type: 'value', min: 0, max: T_MAX, show: false },
      { gridIndex: 1, type: 'value', min: 0, max: T_MAX, show: false },
      ...rulerAxes(2, 'top'),
      ...rulerAxes(3, 'top'),
      ...rulerAxes(3, 'bottom'),
    ],
    yAxis: [
      { gridIndex: 0, type: 'value', min: 0, max: 150, inverse: true, show: false },
      {
        gridIndex: 1, type: 'value', min: -0.7, max: 6.9, z: 6,
        axisLine: { show: false, onZero: false },
        axisTick: { show: true, inside: true, length: 11, customValues: [0, 1, 2, 3, 4, 5, 6], lineStyle: { color: '#222', width: 2 } },
        axisLabel: { customValues: [0, 2, 4, 6], margin: 17, fontSize: 17, fontFamily: SERIF, color: '#555' },
        splitLine: { show: false },
      },
      {
        gridIndex: 2, type: 'value', min: -0.037, max: 2.056, z: 6,
        axisLine: { show: false, onZero: false },
        axisTick: { show: true, inside: true, length: 11, customValues: [0, 0.25, 0.5, 0.75, 1, 1.25, 1.5], lineStyle: { color: '#222', width: 2 } },
        axisLabel: { customValues: [0, 0.5, 1, 1.5], margin: 9, fontSize: 16, fontFamily: SERIF, color: '#555', formatter: (v: number) => v.toFixed(1).replace('.', ',') },
        splitLine: { show: false },
      },
      { gridIndex: 3, type: 'value', min: 0, max: 44.4, show: false },
    ],
    series: [
      headerSeries(),
      bandSeries(X_TEMP, 1, 0),
      bandSeries(X_DUST, 2, 0),
      bandSeries(X_FIELD, 3, 0),
      // temperature panel
      { type: 'line', xAxisIndex: X_TEMP, yAxisIndex: 1, data: period129600, smooth: true, symbol: 'none', z: 3, lineStyle: { color: '#000', width: 3.6 } },
      { type: 'line', xAxisIndex: X_TEMP, yAxisIndex: 1, data: period108000, smooth: true, symbol: 'none', z: 3, lineStyle: { color: '#e0188c', width: 2.6 } },
      { type: 'line', xAxisIndex: X_TEMP, yAxisIndex: 1, data: temperatureAnomaly, smooth: 0.15, symbol: 'none', z: 4, lineStyle: { color: '#302c98', width: 2.2 } },
      { type: 'scatter', xAxisIndex: X_TEMP, yAxisIndex: 1, data: markedAges.map((t) => [t, -0.7]), symbolSize: 12, clip: false, z: 60, itemStyle: { color: '#e8261c' } },
      annotationSeries(X_TEMP, 1, temperatureArrows, []),
      // dust panel
      { type: 'line', xAxisIndex: X_DUST, yAxisIndex: 2, data: dustContent, smooth: 0.2, symbol: 'none', z: 4, lineStyle: { color: '#ee2a1b', width: 1.8 } },
      annotationSeries(X_DUST, 2, dustArrows, []),
      // palaeomagnetic panel
      { type: 'line', xAxisIndex: X_FIELD, yAxisIndex: 3, data: period259200, smooth: true, symbol: 'none', z: 3, lineStyle: { color: '#19a7e0', width: 3.6 } },
      { type: 'line', xAxisIndex: X_FIELD, yAxisIndex: 3, data: period25920, smooth: true, symbol: 'none', z: 3, lineStyle: { color: '#222', width: 2.6 } },
      { type: 'line', xAxisIndex: X_FIELD, yAxisIndex: 3, data: fieldIntensity, smooth: 0.25, symbol: 'none', z: 4, lineStyle: { color: '#000', width: 2.6 } },
      annotationSeries(X_FIELD, 3, fieldArrows, fieldNotes),
    ],
    graphic,
  };
}

export default function App() {
  const ref = useRef<HTMLDivElement>(null);
  useEffect(() => {
    if (!ref.current) return;
    const chart = echarts.init(ref.current, null, { renderer: 'svg' });
    chart.setOption(buildOption() as any);
    return () => chart.dispose();
  }, []);
  return <div ref={ref} style={{ position: 'absolute', left: 0, top: 0, width: 1304, height: 1272, background: '#fff' }} />;
}
